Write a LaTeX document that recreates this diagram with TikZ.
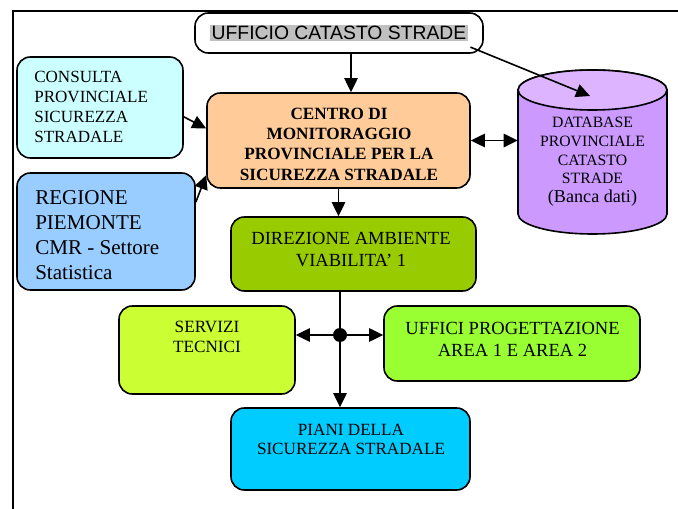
\documentclass[tikz,border=0pt]{standalone}
\usepackage{fontspec}
\setmainfont{Liberation Serif}
\newfontfamily\officefont{Liberation Sans}
\usetikzlibrary{arrows.meta,fit,positioning}

\definecolor{hlgray}{HTML}{C0C0C0}
\definecolor{consultacol}{HTML}{CCFFFF}
\definecolor{regionecol}{HTML}{99CCFF}
\definecolor{centrocol}{HTML}{FFCC99}
\definecolor{dbbody}{HTML}{CC99FF}
\definecolor{dbtop}{HTML}{DCB4FF}
\definecolor{direzionecol}{HTML}{99CC00}
\definecolor{servizicol}{HTML}{CCFF33}
\definecolor{ufficicol}{HTML}{99FF33}
\definecolor{pianicol}{HTML}{00CCFF}

\tikzset{
    box/.style={draw, line width=1.2pt, rounded corners=10pt, inner sep=0pt},
    txt/.style={align=center, inner sep=0pt},
    link/.style={line width=1.2pt, -{Triangle[length=10.5pt,width=10pt]}},
    twoway/.style={line width=1.2pt, {Triangle[length=10.5pt,width=10pt]}-{Triangle[length=10.5pt,width=10pt]}},
    hubdot/.style={circle, fill=black, inner sep=0pt, minimum size=10.5pt}
}

\begin{document}
\begin{tikzpicture}[x=0.75pt, y=-0.75pt]
    \useasboundingbox (0,0) rectangle (678,509);
    \draw[line width=1.1pt] (13,509) -- (13,11) -- (678,11);

    % boxes
    \node[box, fill=white, fit={(195,13) (483,53)}] (ufficio) {};
    \node[fill=hlgray, inner sep=1pt, font=\officefont\fontsize{14.5}{17}\selectfont] (ufficiotxt) at (339,33) {UFFICIO CATASTO STRADE};

    \node[box, fill=consultacol, fit={(17,57) (183,158)}] (consulta) {};
    \node[txt, align=left, anchor=west, font=\fontsize{12.8}{15}\selectfont] (consultatxt) at (34,107)
        {CONSULTA\\PROVINCIALE\\SICUREZZA\\STRADALE};

    \node[box, fill=regionecol, fit={(17,173) (195,290)}] (regione) {};
    \node[txt, align=left, anchor=west, font=\fontsize{15.8}{18.75}\selectfont] (regionetxt) at (35,235)
        {REGIONE\\PIEMONTE\\CMR - Settore\\Statistica};

    \node[box, fill=centrocol, fit={(207,93) (470,188)}] (centro) {};
    \node[txt, font=\bfseries\fontsize{12.9}{15.2}\selectfont] (centrotxt) at (339,144)
        {CENTRO DI\\MONITORAGGIO\\PROVINCIALE PER LA\\SICUREZZA STRADALE};

    % database cylinder
    \filldraw[line width=1.2pt, fill=dbbody] (518,90) -- (518,214)
        arc[start angle=180, end angle=0, x radius=74.5, y radius=20] -- (667,90)
        arc[start angle=0, end angle=-180, x radius=74.5, y radius=20] -- cycle;
    \filldraw[line width=1.2pt, fill=dbtop] (592.5,90) ellipse [x radius=74.5, y radius=20];
    \node[inner sep=0pt, fit={(518,70) (667,234)}] (db) {};
    \coordinate (dbtop) at (590,96);
    \node[txt, font=\fontsize{11.8}{14}\selectfont] (dbtxt) at (592.5,162)
        {DATABASE\\PROVINCIALE\\CATASTO\\STRADE\\{\fontsize{13.6}{15}\selectfont (Banca dati)}};

    \node[box, fill=direzionecol, fit={(231,217) (476,291)}] (direzione) {};
    \node[txt, font=\fontsize{13.9}{16.5}\selectfont] (direzionetxt) at (351,249.5)
        {DIREZIONE AMBIENTE\\VIABILITA’ 1};

    \node[box, fill=servizicol, fit={(119,306) (295,394)}] (servizi) {};
    \node[txt, font=\fontsize{12.9}{15}\selectfont] (servizitxt) at (207,337) {SERVIZI\\TECNICI};

    \node[box, fill=ufficicol, fit={(384,306) (640,381)}] (uffici) {};
    \node[txt, font=\fontsize{13.9}{16.5}\selectfont] (ufficitxt) at (512.5,339)
        {UFFICI PROGETTAZIONE\\AREA 1 E AREA 2};

    \node[box, fill=pianicol, fit={(231,408) (470,490)}] (piani) {};
    \node[txt, font=\fontsize{12.85}{14.25}\selectfont] (pianitxt) at (351,439)
        {PIANI DELLA\\SICUREZZA STRADALE};

    \node[hubdot] (hub) at (340,335) {};

    % connectors
    \draw[link] ([xshift=9pt]ufficio.south) -- ([xshift=9pt]ufficio.south |- centro.north);
    \draw[link] ([xshift=-10pt,yshift=5pt]ufficio.south east) -- (dbtop);
    \draw[link] ([yshift=-7pt]consulta.east) -- ([yshift=9pt]centro.west);
    \draw[link] ([yshift=22pt]regione.east) -- ([yshift=-26pt]centro.west);
    \draw[twoway] (centro.east) -- (centro.east -| db.west);
    \draw[link] (centro.south) -- (centro.south |- direzione.north);
    \draw[line width=1.2pt] (hub |- direzione.south) -- (hub);
    \draw[link] (hub) -- (hub |- piani.north);
    \draw[link] (hub) -- (hub -| servizi.east);
    \draw[link] (hub) -- (hub -| uffici.west);
\end{tikzpicture}
\end{document}
